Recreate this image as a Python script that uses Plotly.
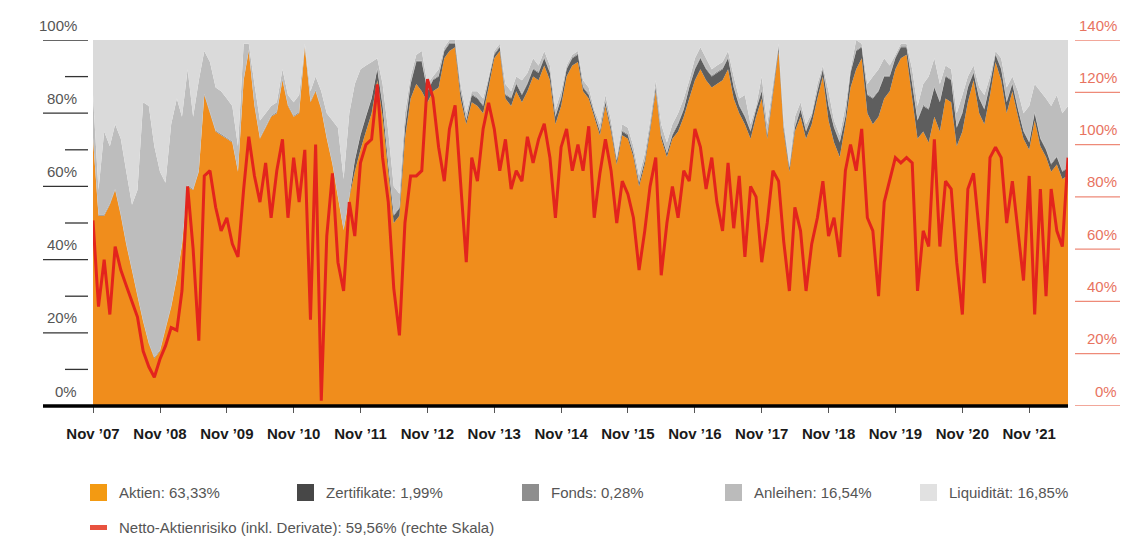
import pandas as pd
import plotly.graph_objects as go

# ---------------- data (monthly readings, Nov 2007 - Jun 2022) ----------------
dates = pd.date_range("2007-11-01", periods=176, freq="MS")

aktien = [73,52,52,55,59,52,44,37,30,23,17,13,15,21,27,35,44,60,59,64,85,80,75,74,73,72,64,89,97,82,
          73,76,79,80,89,82,79,80,98,83,86,81,73,66,57,48,57,64,70,75,80,89,79,64,50,52,73,84,88,86,
          83,86,87,95,97,98,84,77,83,82,80,87,95,97,84,82,86,83,86,90,89,93,89,77,82,90,93,94,86,84,
          79,74,82,75,66,74,73,68,60,66,75,86,73,68,73,75,79,84,89,92,89,87,88,89,92,84,80,77,73,79,
          84,73,85,97,75,64,75,79,73,77,84,90,78,72,68,77,87,92,95,80,77,79,84,86,92,95,96,84,73,75,
          72,79,75,84,83,71,75,83,89,80,77,85,94,89,80,86,79,73,70,78,71,68,64,66,62,63]

zertifikate = [0,0,0,0,0,0,0,0,0,0,0,0,0,0,0,0,0,0,0,0,0,0,0,0,0,0,0,0,0,0,
               0,0,0,0,0,0,0,0,0,0,0,0,0,0,0,0,0,3,4,4,4,3,3,2,2,2,3,4,6,8,
               3,3,3,2,2,1,2,1,2,2,2,2,1,1,1,2,2,2,2,2,2,2,2,2,2,2,2,2,1,1,
               1,1,1,1,1,1,1,1,1,1,1,1,1,1,1,2,2,3,3,3,3,3,3,3,3,3,2,2,2,2,
               2,1,1,1,1,1,1,2,2,2,2,2,4,4,4,2,4,5,3,5,7,7,6,4,3,3,2,4,5,7,
               9,8,8,6,6,5,5,4,2,4,4,3,2,3,3,2,2,2,2,2,2,2,2,2,2,2]

fonds = [0.3,0.3,0.3,0.3,0.3,0.3,0.3,0.3,0.3,0.3,0.3,0.3,0.3,0.3,0.3,0.3,0.3,0.3,0.3,0.3,0.3,0.3,0.3,0.3,0.3,0.3,0.3,0.3,0.3,0.3,
         0.3,0.3,0.3,0.3,0.3,0.3,0.3,0.3,0.3,0.3,0.3,0.3,0.3,0.3,0.3,0.3,0.3,0.3,0.3,0.3,0.3,0.3,0.3,0.3,0.3,0.3,0.3,0.3,0.3,0.3,
         0.3,0.3,0.3,0.3,0.3,0.3,0.3,0.3,0.3,0.3,0.3,0.3,0.3,0.3,0.3,0.3,0.3,0.3,0.3,0.3,0.3,0.3,0.3,0.3,0.3,0.3,0.3,0.3,0.3,0.3,
         0.3,0.3,0.3,0.3,0.3,0.3,0.3,0.3,0.3,0.3,0.3,0.3,0.3,0.3,0.3,0.3,0.3,0.3,0.3,0.3,0.3,0.3,0.3,0.3,0.3,0.3,0.3,0.3,0.3,0.3,
         0.3,0.3,0.3,0.3,0.3,0.3,0.3,0.3,0.3,0.3,0.3,0.3,0.3,0.3,0.3,0.3,0.3,0.3,0.3,0.3,0.3,0.3,0.3,0.3,0.3,0.3,0.3,0.3,0.3,0.3,
         0.3,0.3,0.3,0.3,0.3,0.3,0.3,0.3,0.3,0.3,0.3,0.3,0.3,0.3,0.3,0.3,0.3,0.3,0.3,0.3,0.3,0.3,0.3,0.3,0.3,0.3]

anleihen = [11.7,6.7,22.7,15.7,17.7,20.7,19.7,17.7,28.7,59.7,64.7,57.7,48.7,39.7,49.7,48.7,34.7,31.7,19.7,24.7,11.7,13.7,11.7,11.7,10.7,9.7,6.7,9.7,1.7,5.7,
            4.7,3.7,2.7,2.7,2.7,2.7,3.7,4.7,0.7,2.7,3.7,4.7,6.7,11.7,18.7,13.7,22.7,20.7,17.7,13.7,9.7,2.7,5.7,8.7,7.7,3.7,3.7,1.7,1.7,2.7,
            1.7,0.7,1.7,0.7,0.7,0.7,1.7,1.7,0.7,1.7,1.7,0.7,0.7,0.7,2.7,1.7,1.7,3.7,2.7,2.7,1.7,1.7,1.7,1.7,1.7,0.7,0.7,0.7,1.7,1.7,
            0.7,1.7,1.7,1.7,0.7,1.7,1.7,1.7,1.7,1.7,1.7,1.7,2.7,2.7,2.7,2.7,2.7,1.7,2.7,2.7,2.7,1.7,1.7,1.7,1.7,2.7,1.7,5.7,1.7,0.7,
            3.7,2.7,1.7,0.7,1.7,0.7,2.7,1.7,1.7,0.7,1.7,0.7,3.7,1.7,1.7,2.7,0.7,2.7,0.7,2.7,5.7,5.7,4.7,2.7,0.7,0.7,0.7,3.7,3.7,5.7,
            8.7,7.7,4.7,2.7,2.7,3.7,4.7,2.7,1.7,2.7,3.7,1.7,0.7,2.7,3.7,1.7,4.7,4.7,9.7,7.7,12.7,13.7,15.7,16.7,15.7,16.7]

liquiditaet = [15,41,25,29,23,27,36,45,41,17,18,29,36,39,23,16,21,8,21,11,3,6,13,14,16,18,29,1,1,12,
               22,20,18,17,8,15,17,15,1,14,10,14,20,22,24,38,20,12,8,7,6,5,12,25,40,42,20,10,4,3,
               12,10,8,2,0,0,12,20,14,14,16,10,3,1,12,14,10,11,9,5,7,3,7,19,14,7,4,3,11,13,
               19,23,15,22,32,23,24,29,37,31,22,11,23,28,23,20,16,11,5,2,5,8,7,6,3,10,16,15,23,18,
               10,23,12,1,22,34,21,17,23,20,12,7,14,22,26,18,8,0,1,12,10,8,5,7,4,1,1,8,18,12,
               10,5,12,7,8,20,15,10,7,13,15,10,3,5,13,10,14,20,18,12,14,16,18,15,20,18]

netto = [71,38,56,35,61,52,46,40,34,21,15,11,18,23,30,29,44,84,60,25,88,90,76,67,72,62,57,83,103,88,
         78,93,72,90,102,72,95,78,98,33,100,2,65,89,55,44,78,65,93,100,102,123,95,78,45,27,70,88,88,90,
         125,118,99,86,106,115,86,55,95,86,106,116,106,90,102,83,90,86,103,93,102,108,95,72,99,106,90,100,90,107,
         72,89,102,90,70,86,81,72,52,67,84,95,50,70,84,72,90,86,106,99,83,95,78,67,93,68,88,57,84,80,
         55,70,90,86,63,44,76,67,44,62,72,86,65,72,57,90,100,90,106,72,67,42,78,86,95,93,95,93,44,67,
         61,102,61,86,83,55,35,83,89,67,47,95,99,95,70,86,67,48,88,35,83,42,83,67,61,95]

tick_dates = pd.date_range("2007-11-01", periods=15, freq="12MS")
tick_text = ["Nov \u2019%02d" % (d.year % 100) for d in tick_dates]

left_ticks = [0, 20, 40, 60, 80, 100]
left_minor = [10, 30, 50, 70, 90]
right_ticks = [0, 20, 40, 60, 80, 100, 120, 140]

legend_items = [
    ("Aktien: 63,33%", "#F39A12"),
    ("Zertifikate: 1,99%", "#474747"),
    ("Fonds: 0,28%", "#8E8E8E"),
    ("Anleihen: 16,54%", "#BBBBBB"),
    ("Liquidit\u00e4t: 16,85%", "#E1E1E1"),
]
legend_line = ("Netto-Aktienrisiko (inkl. Derivate): 59,56% (rechte Skala)", "#E8523F")

# ---------------- figure ----------------
W, H = 1122, 536
ML, MR, MT, MB = 93, 54, 40, 130
PW = W - ML - MR
PH = H - MT - MB


def px(xp):
    return (xp - ML) / PW


def py(yp):
    return (H - MB - yp) / PH


fig = go.Figure()
series = [
    ("Aktien", aktien, "#F08D1C"),
    ("Zertifikate", zertifikate, "#5E5E5E"),
    ("Fonds", fonds, "#8E8E8E"),
    ("Anleihen", anleihen, "#BDBDBD"),
    ("Liquidit\u00e4t", liquiditaet, "#DADADA"),
]
for name, vals, col in series:
    fig.add_trace(go.Scatter(x=dates, y=vals, name=name, stackgroup="one", mode="none",
                             fillcolor=col, showlegend=False, hoverinfo="skip"))

fig.add_trace(go.Scatter(x=dates, y=netto, name="Netto-Aktienrisiko", yaxis="y2", mode="lines",
                         line=dict(color="#E3241D", width=3), showlegend=False))

shapes = []
annotations = []

for v in left_ticks:
    shapes.append(dict(type="line", xref="paper", yref="y", x0=px(43), x1=px(88), y0=v, y1=v,
                       line=dict(color="#333333", width=1.3)))
    annotations.append(dict(xref="paper", yref="y", x=px(79), y=v, yshift=15, text="%d%%" % v,
                            showarrow=False, xanchor="right", yanchor="middle",
                            font=dict(family="Liberation Sans, Arial", size=15, color="#555555")))
for v in left_minor:
    shapes.append(dict(type="line", xref="paper", yref="y", x0=px(65), x1=px(88), y0=v, y1=v,
                       line=dict(color="#333333", width=1.3)))

for v in right_ticks:
    shapes.append(dict(type="line", xref="paper", yref="y2", x0=px(1075), x1=px(1120), y0=v, y1=v,
                       line=dict(color="#EE8A78", width=1.3)))
    annotations.append(dict(xref="paper", yref="y2", x=px(1119), y=v, yshift=15, text="%d%%" % v,
                            showarrow=False, xanchor="right", yanchor="middle",
                            font=dict(family="Liberation Sans, Arial", size=15, color="#E8735F")))

shapes.append(dict(type="line", xref="paper", yref="paper", x0=px(43), x1=1.0, y0=0, y1=0,
                   line=dict(color="#000000", width=3.5)))

leg_x = [90, 297, 522, 725, 920]
for (txt, col), lx in zip(legend_items, leg_x):
    shapes.append(dict(type="rect", xref="paper", yref="paper", x0=px(lx), x1=px(lx + 17),
                       y0=py(501), y1=py(484), fillcolor=col, line=dict(width=0)))
    annotations.append(dict(xref="paper", yref="paper", x=px(lx + 27), y=py(492), text=txt,
                            showarrow=False, xanchor="left", yanchor="middle",
                            font=dict(family="Liberation Sans, Arial", size=15, color="#555555")))
shapes.append(dict(type="rect", xref="paper", yref="paper", x0=px(90), x1=px(107),
                   y0=py(530), y1=py(525), fillcolor=legend_line[1], line=dict(width=0)))
annotations.append(dict(xref="paper", yref="paper", x=px(117), y=py(527), text=legend_line[0],
                        showarrow=False, xanchor="left", yanchor="middle",
                        font=dict(family="Liberation Sans, Arial", size=15, color="#555555")))

fig.update_layout(
    width=W, height=H,
    margin=dict(l=ML, r=MR, t=MT, b=MB),
    paper_bgcolor="white", plot_bgcolor="white",
    xaxis=dict(type="date", range=[dates[0], dates[-1]], showgrid=False, zeroline=False,
               showline=False, tickvals=list(tick_dates), ticktext=tick_text,
               ticks="outside", ticklen=6, tickwidth=1, tickcolor="#555555",
               ticklabelstandoff=8, fixedrange=True,
               tickfont=dict(family="Liberation Sans, Arial", size=15, color="#1A1A1A", weight="bold")),
    yaxis=dict(range=[0, 100], visible=False, fixedrange=True),
    yaxis2=dict(range=[0, 140], overlaying="y", side="right", visible=False, fixedrange=True),
    shapes=shapes,
    annotations=annotations,
    showlegend=False,
    hovermode=False,
)

fig.write_html("out.html", config={"displayModeBar": False, "staticPlot": True},
               post_script="document.body.style.margin='0px';document.body.style.overflow='hidden';")
